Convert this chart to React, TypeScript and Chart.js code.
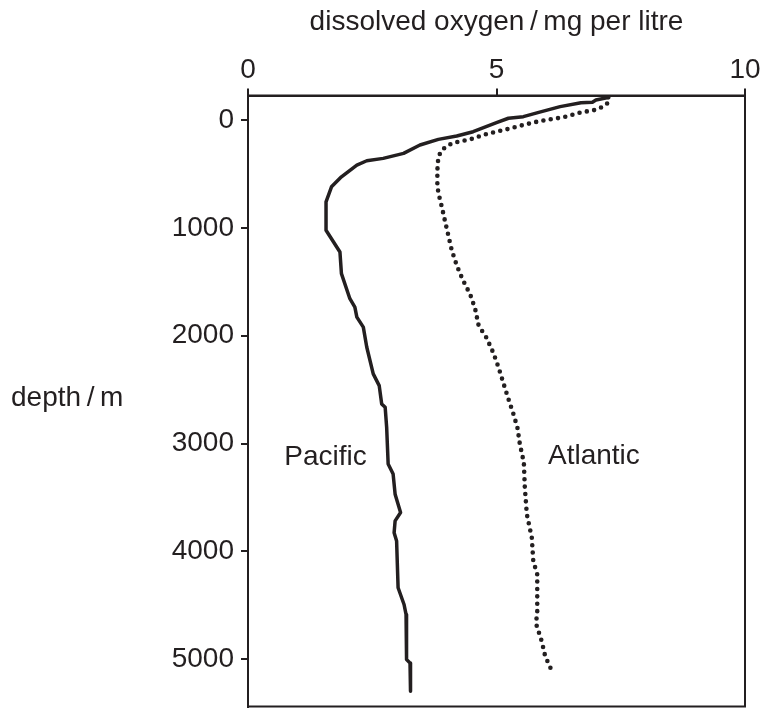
import React, { useEffect, useRef } from "react";
import { Chart, registerables } from "chart.js";

Chart.register(...registerables);

// ---- data ----
const pacificDepth = [
  -211, -185, -165, -160, -124, -70, -31, -16, 25, 109, 149, 180, 232, 310, 356, 378, 418, 527, 620, 759,
  1022, 1224, 1425, 1657, 1735, 1828, 1921, 2107, 2354, 2463, 2633, 2664, 2850, 3190, 3283, 3469, 3640,
  3717, 3826, 3903, 4337, 4492, 4584, 5003, 5034, 5142, 5297,
];
const pacificOxygen = [
  7.27, 7.0, 6.93, 6.7, 6.28, 5.85, 5.54, 5.24, 5.0, 4.53, 4.2, 3.83, 3.46, 3.13, 2.72, 2.39, 2.19, 1.88, 1.68,
  1.57, 1.57, 1.85, 1.88, 2.05, 2.15, 2.19, 2.32, 2.39, 2.52, 2.64, 2.69, 2.76, 2.79, 2.82, 2.92, 2.96, 3.07,
  2.96, 2.94, 2.99, 3.02, 3.14, 3.18, 3.19, 3.26, 3.27, 3.27,
];
const atlanticDepth = [
  -211, -170, -124, -93, -68, -25, 9, 46, 86, 130, 180, 211, 242, 279, 341, 465, 620, 713, 806, 929, 1069,
  1208, 1348, 1481, 1617, 1750, 1905, 2020, 2163, 2293, 2441, 2587, 2726, 2850, 3005, 3175, 3407, 3655,
  3872, 4089, 4213, 4584, 4662, 4833, 4972, 5105,
];
const atlanticOxygen = [
  7.25, 7.27, 7.15, 6.98, 6.68, 6.34, 5.88, 5.54, 5.21, 4.8, 4.47, 4.13, 4.0, 3.9, 3.83, 3.81, 3.81, 3.85,
  3.9, 3.96, 4.03, 4.1, 4.2, 4.32, 4.47, 4.57, 4.64, 4.8, 4.94, 5.04, 5.14, 5.24, 5.34, 5.42, 5.47, 5.55,
  5.57, 5.61, 5.71, 5.74, 5.82, 5.82, 5.79, 5.91, 5.98, 6.11,
];
const oxygenTicks = [0, 5, 10];
const depthTicks = [0, 1000, 2000, 3000, 4000, 5000];
const xTitle = "dissolved oxygen\u2009/\u2009mg per litre";
const yTitle = "depth\u2009/\u2009m";
const seriesNames = ["Pacific", "Atlantic"];

const INK = "#231f20";
const FONT = "'Liberation Sans', Arial, Helvetica, sans-serif";

const framePlugin = {
  id: "frame",
  afterDatasetsDraw(chart: any) {
    const { ctx, chartArea: a } = chart;
    ctx.save();
    ctx.strokeStyle = INK;
    ctx.lineWidth = 2;
    ctx.strokeRect(a.left, a.top, a.right - a.left, a.bottom - a.top);
    ctx.restore();
  },
};

const textPlugin = {
  id: "texts",
  afterDraw(chart: any) {
    const { ctx, scales } = chart;
    const x = scales.x;
    const y = scales.y;
    ctx.save();
    ctx.fillStyle = INK;
    ctx.font = `28px ${FONT}`;
    ctx.textBaseline = "alphabetic";
    ctx.textAlign = "left";
    ctx.fillText(yTitle, 11, y.getPixelForValue(2650));
    ctx.textAlign = "center";
    ctx.fillText(seriesNames[0], x.getPixelForValue(1.56), y.getPixelForValue(3199));
    ctx.fillText(seriesNames[1], x.getPixelForValue(6.96), y.getPixelForValue(3190));
    ctx.restore();
  },
};

export default function App() {
  const ref = useRef<HTMLCanvasElement | null>(null);

  useEffect(() => {
    if (!ref.current) return;
    const pac = pacificDepth.map((d, i) => ({ x: pacificOxygen[i], y: d }));
    const atl = atlanticDepth.map((d, i) => ({ x: atlanticOxygen[i], y: d }));
    const tickFont = { family: FONT, size: 28 };
    const chart = new Chart(ref.current, {
      type: "scatter",
      data: {
        datasets: [
          {
            label: seriesNames[0],
            data: pac,
            showLine: true,
            borderColor: INK,
            backgroundColor: INK,
            borderWidth: 3.5,
            pointRadius: 0,
            tension: 0,
            borderJoinStyle: "round",
            borderCapStyle: "butt",
          },
          {
            label: seriesNames[1],
            data: atl,
            showLine: true,
            borderColor: INK,
            backgroundColor: INK,
            borderWidth: 4.6,
            borderDash: [0, 7.4],
            borderCapStyle: "round",
            pointRadius: 0,
            tension: 0,
          },
        ],
      } as any,
      options: {
        animation: false,
        responsive: false,
        layout: { padding: { left: 0, right: 18, top: 0, bottom: 1.5 } },
        plugins: { legend: { display: false }, tooltip: { enabled: false } },
        scales: {
          x: {
            type: "linear",
            position: "top",
            min: 0,
            max: 10,
            afterBuildTicks: (s: any) => {
              s.ticks = oxygenTicks.map((v) => ({ value: v }));
            },
            afterFit: (s: any) => {
              s.height = 95.5;
              s.paddingLeft = 0;
              s.paddingRight = 0;
            },
            ticks: {
              font: tickFont,
              color: INK,
              padding: 1,
              maxRotation: 0,
              autoSkip: false,
              callback: (v: any) => String(v),
            },
            grid: { drawOnChartArea: false, drawTicks: true, tickLength: 7, color: INK, lineWidth: 2 },
            border: { display: true, color: INK, width: 2 },
            title: {
              display: true,
              text: xTitle,
              font: tickFont,
              color: INK,
              padding: { top: 5, bottom: 0 },
            },
          },
          y: {
            type: "linear",
            position: "left",
            reverse: true,
            min: -227,
            max: 5438,
            afterBuildTicks: (s: any) => {
              s.ticks = depthTicks.map((v) => ({ value: v }));
            },
            afterFit: (s: any) => {
              s.width = 248;
              s.paddingTop = 0;
              s.paddingBottom = 0;
            },
            ticks: {
              font: tickFont,
              color: INK,
              padding: 7,
              autoSkip: false,
              callback: (v: any) => String(v),
            },
            grid: { drawOnChartArea: false, drawTicks: true, tickLength: 7, color: INK, lineWidth: 2 },
            border: { display: true, color: INK, width: 2 },
          },
        },
      } as any,
      plugins: [framePlugin, textPlugin],
    });
    return () => chart.destroy();
  }, []);

  return (
    <div style={{ position: "fixed", left: 0, top: 0, width: 763, height: 708, background: "#fff" }}>
      <canvas ref={ref} width={763} height={708} style={{ display: "block", width: 763, height: 708 }} />
    </div>
  );
}
